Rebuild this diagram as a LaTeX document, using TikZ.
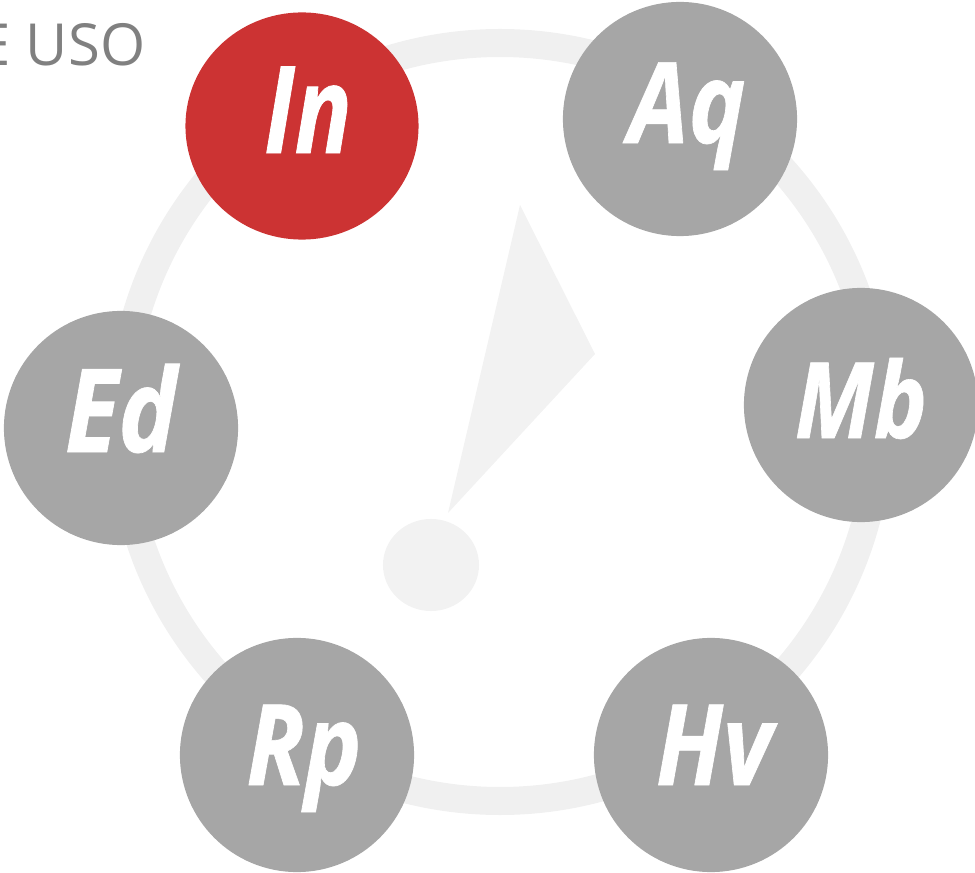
\documentclass[tikz,border=0pt]{standalone}
\usepackage{fontspec}
\usetikzlibrary{shapes.geometric}
\setmainfont{Open Sans}
\newfontfamily\stagefont[FakeStretch=0.85,FakeBold=0.6]{Open Sans}
\newfontfamily\stageonfont[FakeStretch=0.78,FakeBold=0.6]{Open Sans}
\definecolor{ringgray}{HTML}{F0F0F0}
\definecolor{markgray}{HTML}{F2F2F2}
\definecolor{stagegray}{HTML}{A6A6A6}
\definecolor{stagered}{HTML}{CC3333}
\definecolor{titlegray}{HTML}{808080}
\begin{document}
\begin{tikzpicture}[x=0.01cm,y=-0.01cm,
		stage/.style 2 args={circle,fill=stagegray,text=white,minimum size=2.34cm,inner sep=0pt,text height=0.8cm,text depth=#1,font=\stagefont\fontsize{#2}{#2}\selectfont\bfseries\itshape},
		stageon/.style 2 args={stage={#1}{#2},ellipse,fill=stagered,minimum width=2.33cm,minimum height=2.27cm,font=\stageonfont\fontsize{#2}{#2}\selectfont\bfseries\itshape}]
		\useasboundingbox (0,0) rectangle (975,873);
		\draw[ringgray,line width=0.28cm] (500,422) circle (379);
		%the mark in the middle
		\fill[markgray] (520,205) -- (595,354) -- (448,513) -- cycle;
		\node[ellipse,fill=markgray,minimum width=0.96cm,minimum height=0.92cm,inner sep=0pt] (dot) at (431,565) {};
		\node[anchor=base east,inner sep=0pt,text=titlegray,font=\fontsize{16.5}{16.5}\selectfont] (title) at (146,66) {E USO};
		\node[stageon={0.26cm}{34.5}] (in) at (302,126) {\hspace*{0.12cm}In};
		\node[stage={0.32cm}{32}] (aq) at (680,119) {\hspace*{0.14cm}Aq};
		\node[stage={0.14cm}{30}] (mb) at (861,405) {Mb};
		\node[stage={0.20cm}{32}] (hv) at (711,755) {\hspace*{0.06cm}Hv};
		\node[stage={0.20cm}{32}] (rp) at (297,755) {\hspace*{0.14cm}Rp};
		\node[stage={0.32cm}{33}] (ed) at (121,428) {Ed};
	\end{tikzpicture}
\end{document}
